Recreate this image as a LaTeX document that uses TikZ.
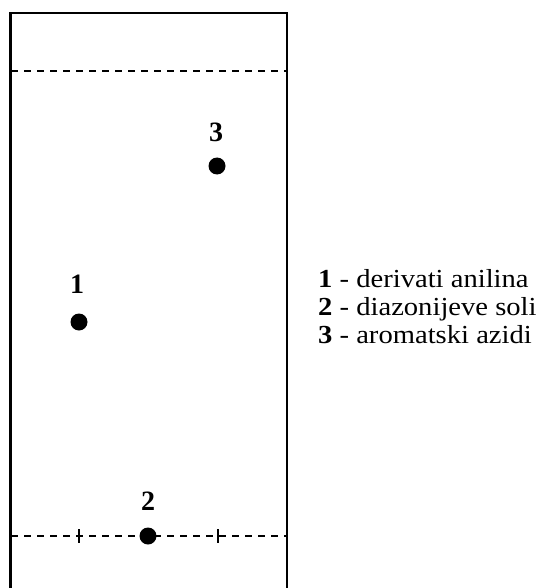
\documentclass[tikz,border=0pt]{standalone}
\usepackage{fontspec}
\setmainfont{Liberation Serif}
\newfontfamily\legendfont[FakeStretch=1.1]{Liberation Serif}
\tikzset{
  frame/.style={line width=2.8pt},
  dashline/.style={line width=2.5pt, dash pattern=on 7pt off 6pt},
  tick/.style={line width=2.5pt},
  spot/.style={circle, fill=black, inner sep=0pt, minimum size=17pt},
  num/.style={font=\fontsize{28}{30}\selectfont\bfseries, inner sep=0pt},
  legend/.style={font=\legendfont\fontsize{26}{28}\selectfont, inner sep=0pt, anchor=base west}
}
\begin{document}
\begin{tikzpicture}[x=1pt,y=-1pt]
\useasboundingbox (0,0) rectangle (542,588);
\coordinate (bl) at (10.5,588);
\coordinate (tl) at (10.5,13);
\coordinate (tr) at (287,13);
\coordinate (br) at (287,588);
\draw[frame] (bl) -- (tl) -- (tr) -- (br);
\coordinate (d1l) at (11,71);
\coordinate (d1r) at (287,71);
\coordinate (d2l) at (11,536);
\coordinate (d2r) at (287,536);
\draw[dashline] (d1l) -- (d1r);
\draw[dashline] (d2l) -- (d2r);
\coordinate (t1a) at (79,529); \coordinate (t1b) at (79,543);
\coordinate (t2a) at (218,529); \coordinate (t2b) at (218,543);
\draw[tick] (t1a) -- (t1b);
\draw[tick] (t2a) -- (t2b);
\node[spot] (s3) at (217,166) {};
\node[spot] (s1) at (79,322) {};
\node[spot] (s2) at (148,536) {};
\node[num] (l3) at (216,132) {3};
\node[num] (l1) at (77,284) {1};
\node[num] (l2) at (148,501) {2};
\node[legend] (g1) at (318,287) {\textbf{1} - derivati anilina};
\node[legend] (g2) at (318,315) {\textbf{2} - diazonijeve soli};
\node[legend] (g3) at (318,343) {\textbf{3} - aromatski azidi};
\end{tikzpicture}
\end{document}
